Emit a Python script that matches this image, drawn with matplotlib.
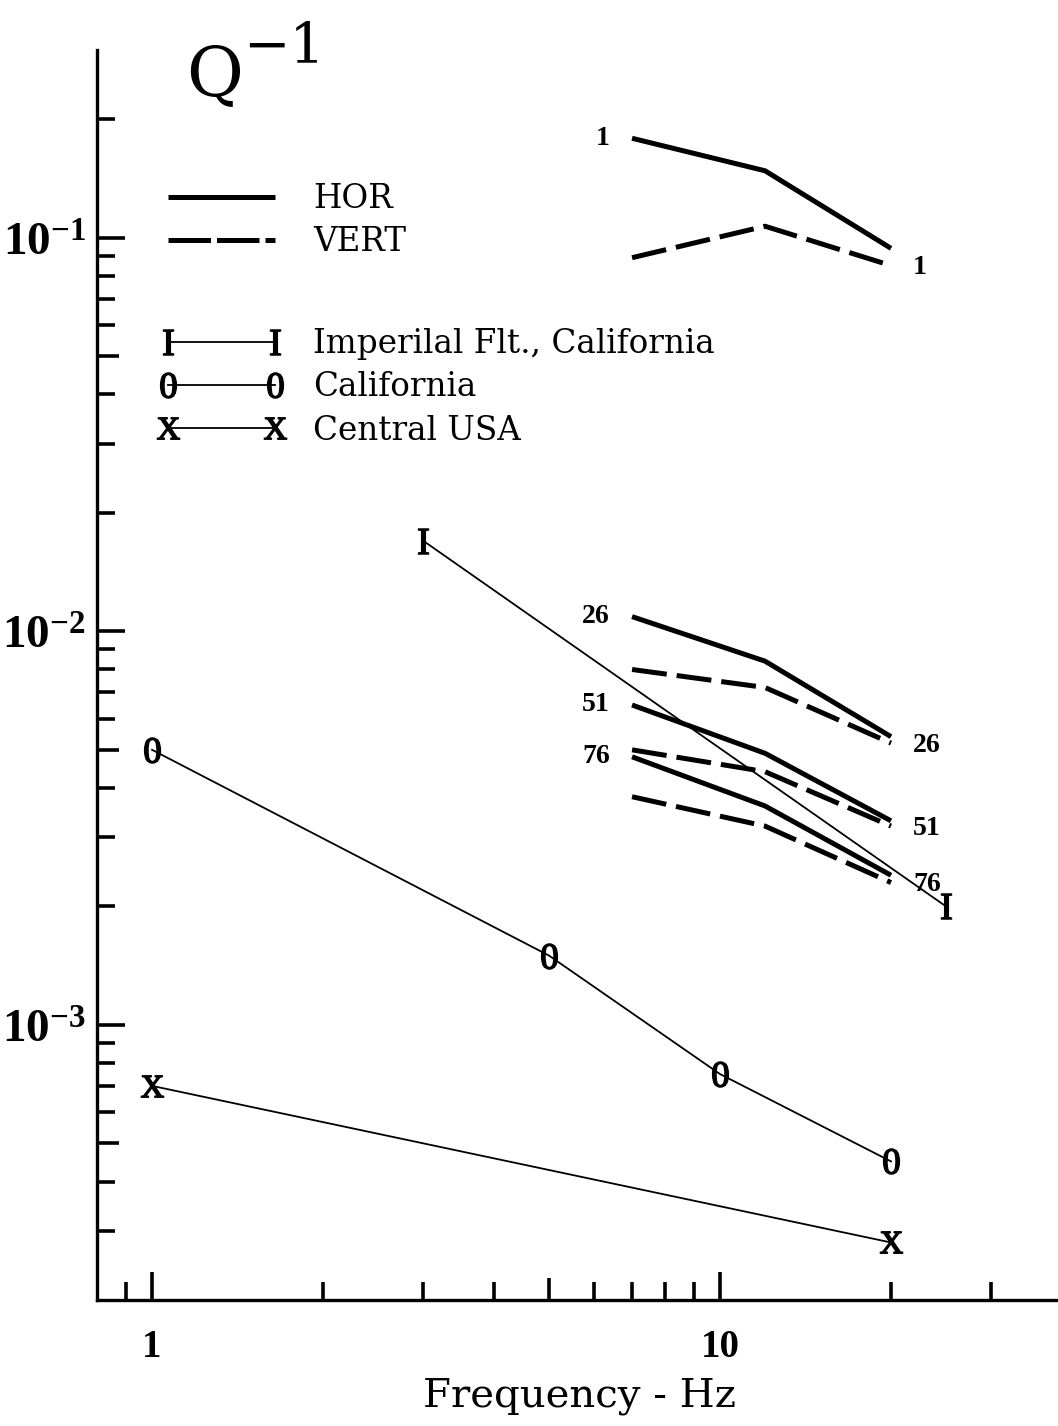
import matplotlib
matplotlib.use("Agg")
import matplotlib.pyplot as plt
import numpy as np
from matplotlib.lines import Line2D
from matplotlib.ticker import FixedFormatter, FixedLocator, NullFormatter

plt.rcParams["font.family"] = ["DejaVu Serif"]
plt.rcParams["mathtext.fontset"] = "custom"
plt.rcParams["mathtext.rm"] = "Liberation Serif"
plt.rcParams["mathtext.bf"] = "Liberation Serif:bold"

# coda Q^-1 for the lapse-time windows, horizontal and vertical components
CODA_FREQ = [7, 12, 20]
LAPSE_LABELS = ["1", "26", "51", "76"]
HOR_Q = [
    [0.179, 0.148, 0.094],
    [0.0109, 0.0084, 0.0054],
    [0.0065, 0.0049, 0.0033],
    [0.0048, 0.0036, 0.0024],
]
VERT_Q = [
    [0.089, 0.107, 0.085],
    [0.0080, 0.0072, 0.0052],
    [0.0050, 0.0044, 0.0032],
    [0.0038, 0.0032, 0.0023],
]

# published regional values
IMPERIAL_FREQ = [3, 25]
IMPERIAL_Q = [0.017, 0.002]
CALIF_FREQ = [1, 5, 10, 20]
CALIF_Q = [0.005, 0.0015, 0.00075, 0.00045]
CENTRAL_FREQ = [1, 20]
CENTRAL_Q = [0.0007, 0.00028]

REGION_NAMES = ["Imperilal Flt., California", "California", "Central USA"]

X_MAJOR = [1, 10]
X_MAJOR_LABELS = ["1", "10"]
X_MINOR = [0.9, 2, 3, 4, 5, 6, 7, 8, 9, 20, 30]
Y_MAJOR = [1e-3, 1e-2, 1e-1]
Y_MAJOR_LABELS = [r"$\mathbf{10^{-3}}$", r"$\mathbf{10^{-2}}$", r"$\mathbf{10^{-1}}$"]

W, H = 1058, 1426
THICK = 3.6
THIN = 1.3
VERT_DASH = (7, 2)


def main():
    fig = plt.figure(figsize=(W / 100, H / 100), dpi=100)
    ax = fig.add_axes([97 / W, 126 / H, 965 / W, 1250 / H])
    ax.set_xscale("log")
    ax.set_yscale("log")
    ax.set_xlim(0.8, 40)
    ax.set_ylim(2e-4, 0.3)

    for side in ["top", "right"]:
        ax.spines[side].set_visible(False)
    for side in ["left", "bottom"]:
        ax.spines[side].set_linewidth(2.4)

    y_minor = [k * 10.0 ** e for e in range(-4, 0) for k in range(2, 10)]
    y_minor = [v for v in y_minor if 2.5e-4 < v < 0.25]

    ax.xaxis.set_major_locator(FixedLocator(X_MAJOR))
    ax.xaxis.set_major_formatter(FixedFormatter(X_MAJOR_LABELS))
    ax.xaxis.set_minor_locator(FixedLocator(X_MINOR))
    ax.xaxis.set_minor_formatter(NullFormatter())
    ax.yaxis.set_major_locator(FixedLocator(Y_MAJOR))
    ax.yaxis.set_major_formatter(FixedFormatter(Y_MAJOR_LABELS))
    ax.yaxis.set_minor_locator(FixedLocator(y_minor))
    ax.yaxis.set_minor_formatter(NullFormatter())

    ax.tick_params(which="both", direction="in", width=2.6, color="black")
    ax.tick_params(which="major", length=20)
    ax.tick_params(which="minor", length=13)
    ax.tick_params(axis="x", which="major", pad=21, labelsize=28)
    ax.tick_params(axis="y", which="major", pad=8, labelsize=34)
    for lab in ax.get_xticklabels():
        lab.set_family("Liberation Serif")
        lab.set_weight("bold")

    # coda curves
    lab_style = dict(textcoords="offset pixels", family="Liberation Serif",
                     weight="bold", fontsize=20, va="center")
    for lab, hq, vq in zip(LAPSE_LABELS, HOR_Q, VERT_Q):
        ax.plot(CODA_FREQ, hq, color="black", lw=THICK, solid_capstyle="butt")
        ax.plot(CODA_FREQ, vq, color="black", lw=THICK, dashes=VERT_DASH,
                dash_capstyle="butt")
        ax.annotate(lab, xy=(CODA_FREQ[0], hq[0]), xytext=(-22, 0),
                    ha="right", **lab_style)
        ax.annotate(lab, xy=(CODA_FREQ[-1], vq[-1]), xytext=(22, -2),
                    ha="left", **lab_style)

    # regional curves with letter markers
    mk = dict(color="black", lw=THIN, markersize=18, markeredgewidth=1.1)
    h_imp, = ax.plot(IMPERIAL_FREQ, IMPERIAL_Q, marker=r"$\mathrm{I}$", **mk)
    h_cal, = ax.plot(CALIF_FREQ, CALIF_Q, marker=r"$\mathrm{0}$", **mk)
    h_cen, = ax.plot(CENTRAL_FREQ, CENTRAL_Q, marker=r"$\mathrm{X}$",
                     **dict(mk, markersize=16))

    fs = 23.5
    hor = Line2D([], [], color="black", lw=THICK, solid_capstyle="butt")
    vert = Line2D([], [], color="black", lw=THICK, dashes=(8.5, 1.2),
                  dash_capstyle="butt")
    leg1 = ax.legend([hor, vert], ["HOR", "VERT"], loc="upper left",
                     bbox_to_anchor=(168 / W, 1 - 183 / H),
                     bbox_transform=fig.transFigure, frameon=False,
                     fontsize=fs, numpoints=1, handlelength=3.28,
                     handletextpad=1.16, borderpad=0, borderaxespad=0,
                     labelspacing=0.35)
    ax.add_artist(leg1)
    ax.legend([h_imp, h_cal, h_cen], REGION_NAMES, loc="upper left",
              bbox_to_anchor=(158 / W, 1 - 328 / H),
              bbox_transform=fig.transFigure, frameon=False,
              fontsize=fs, numpoints=2, handlelength=3.88,
              handletextpad=0.87, borderpad=0, borderaxespad=0,
              labelspacing=0.35)

    ax.set_xlabel("Frequency - Hz", fontsize=29, labelpad=8)

    fig.text(186 / W, 1 - 97 / H, "Q", fontsize=50, va="baseline")
    fig.text(243 / W, 1 - 62 / H, "\u22121", fontsize=40, va="baseline")

    # medium-length ticks at the 5s
    fig.canvas.draw()
    for axis in [ax.xaxis, ax.yaxis]:
        for tick in axis.get_minor_ticks():
            loc = tick.get_loc()
            if loc and np.isclose(loc / 10 ** np.floor(np.log10(loc)), 5):
                tick.tick1line.set_markersize(16)

    fig.savefig("out.png", dpi=100, facecolor="white")
    plt.close(fig)


if __name__ == "__main__":
    main()
